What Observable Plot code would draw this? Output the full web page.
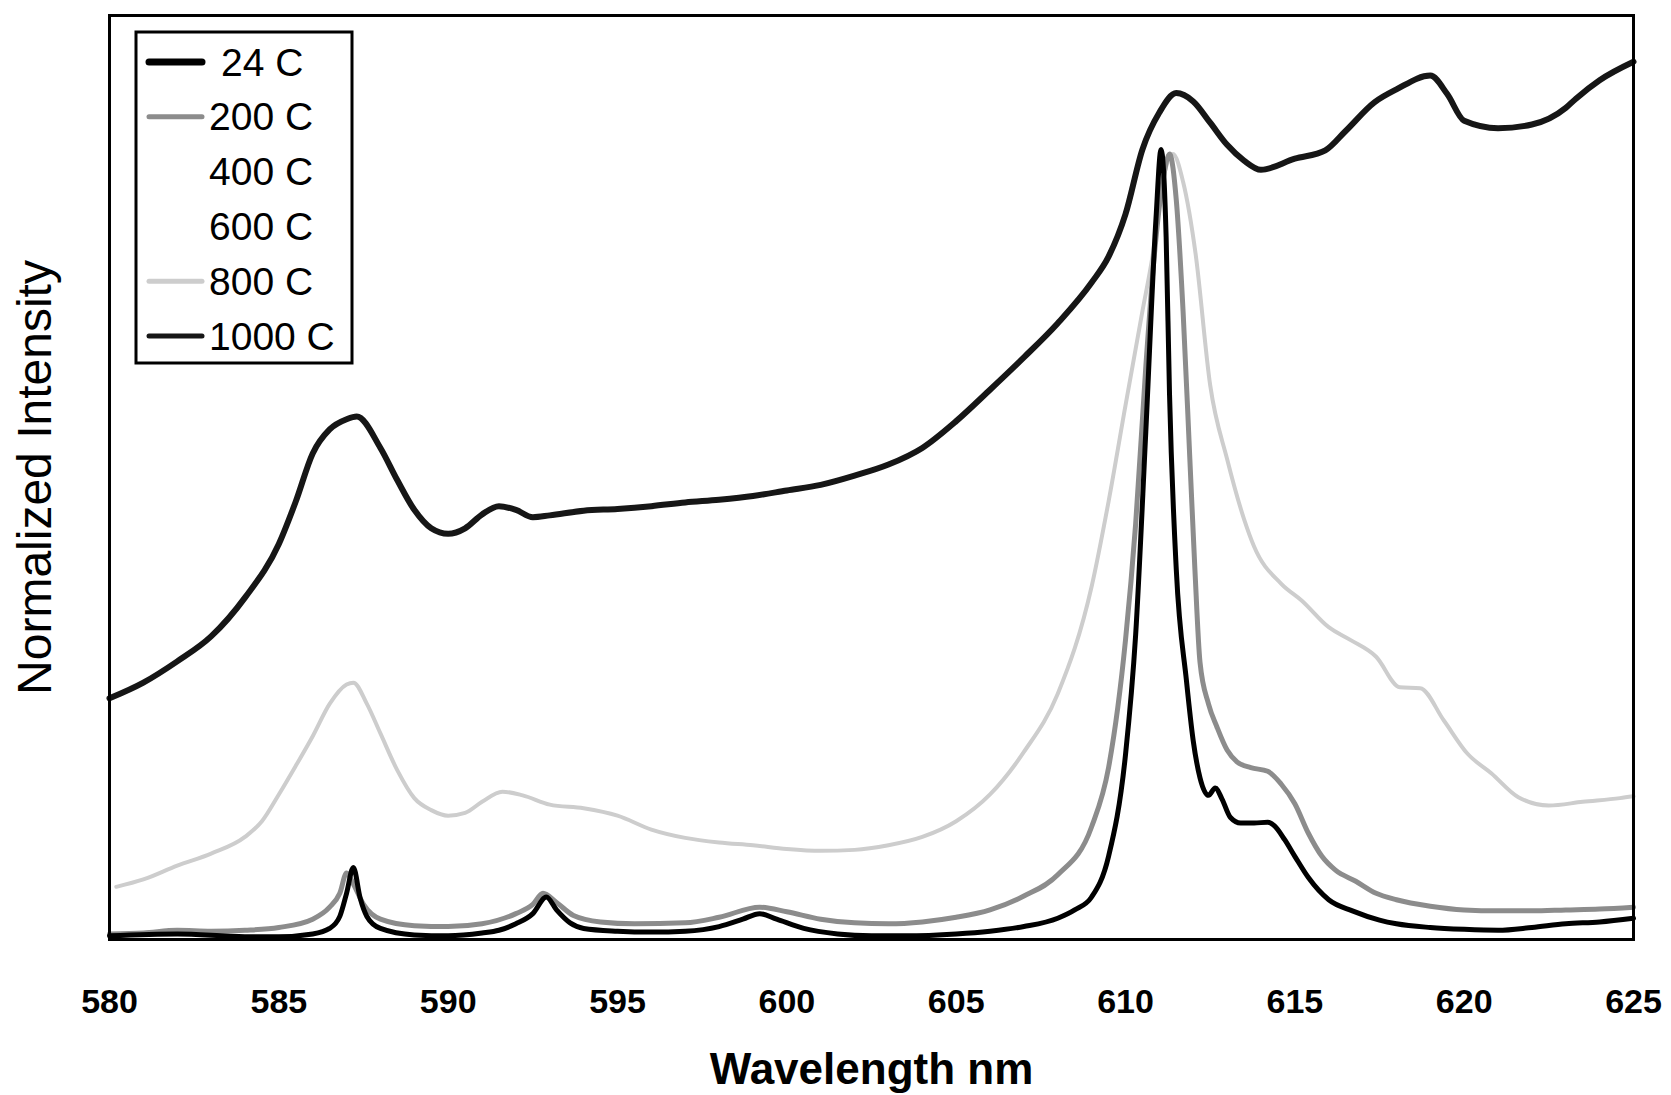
<!DOCTYPE html>
<html>
<head>
<meta charset="utf-8">
<script src="https://cdn.jsdelivr.net/npm/d3@7"></script>
<script src="https://cdn.jsdelivr.net/npm/@observablehq/plot@0.6"></script>
<style>
  body { margin: 0; background: #fff; }
  #chart { position: relative; width: 1671px; height: 1095px; }
  #chart svg { font-family: "Liberation Sans", Arial, sans-serif; }
</style>
</head>
<body>
<div id="chart"></div>
<script>
// ---- data ----
const xTicks = [580, 585, 590, 595, 600, 605, 610, 615, 620, 625];
const seriesNames = ["24 C", "200 C", "400 C", "600 C", "800 C", "1000 C"];
const seriesColors = ["#000000", "#8c8c8c", "#ffffff", "#ffffff", "#cdcdcd", "#161616"];

const wl24 = [580, 582, 584, 585, 586, 586.5, 586.8, 587.0, 587.2, 587.4, 587.6, 588, 589, 590, 591, 591.5, 592, 592.5, 592.9, 593.2, 593.6, 594, 595, 596, 597, 598, 598.7, 599.2, 599.7, 600.5, 601.5, 602.5, 603.5, 605, 606, 607, 608, 608.5, 609, 609.5, 610, 610.3, 610.6, 610.9, 611.05, 611.2, 611.3, 611.5, 611.8, 612.0, 612.2, 612.45, 612.65, 612.85, 613.1, 613.4, 613.8, 614.2, 614.4, 614.7, 615.0, 615.4, 616.0, 616.7, 617.5, 618, 619, 620, 621, 622, 623, 624, 625];
const in24 = [0.4, 0.6, 0.3, 0.3, 0.6, 1.2, 2.5, 5.0, 7.8, 4.5, 2.5, 1.2, 0.5, 0.4, 0.7, 1.0, 1.7, 2.8, 4.6, 3.2, 1.8, 1.2, 0.9, 0.8, 0.9, 1.4, 2.2, 2.8, 2.2, 1.2, 0.6, 0.4, 0.4, 0.6, 0.9, 1.4, 2.3, 3.2, 4.6, 9.0, 20, 33, 55, 78, 85.5, 76, 59, 40, 28, 21.5, 17.5, 15.6, 16.4, 15.2, 13.2, 12.6, 12.6, 12.7, 12.3, 10.8, 9.0, 6.7, 4.3, 3.1, 2.1, 1.7, 1.3, 1.1, 1.0, 1.3, 1.7, 1.9, 2.3];

const wl200 = [580, 581, 582, 583, 584, 585, 586, 586.5, 586.8, 587.0, 587.2, 587.5, 588, 589, 590, 591, 592, 592.5, 592.8, 593.2, 593.7, 594.5, 595.5, 597, 598, 599.2, 600, 601, 602, 603, 604, 605, 606, 607, 608, 609, 609.5, 610, 610.3, 610.6, 610.85, 611.1, 611.3, 611.5, 611.7, 611.9, 612.05, 612.2, 612.45, 612.7, 613.0, 613.3, 613.7, 614.2, 614.6, 615.0, 615.4, 615.8, 616.2, 616.8, 617.4, 618, 619, 620, 621, 622, 623, 624, 625];
const in200 = [0.6, 0.7, 1.0, 0.9, 1.0, 1.3, 2.2, 3.5, 5.0, 7.2, 6.0, 3.8, 2.2, 1.5, 1.4, 1.7, 2.8, 3.8, 5.0, 4.0, 2.6, 1.9, 1.7, 1.8, 2.4, 3.5, 3.0, 2.2, 1.8, 1.7, 1.9, 2.4, 3.2, 4.7, 7.0, 12.2, 18.6, 32.4, 45, 62, 74, 82, 85, 80, 68, 52, 40, 30, 25.5, 23, 20.5, 19.2, 18.6, 18.2, 16.8, 14.7, 11.5, 9.0, 7.5, 6.3, 5.0, 4.3, 3.6, 3.2, 3.1, 3.1, 3.2, 3.3, 3.5];

const wl800 = [580.2, 581, 582, 583, 584, 584.5, 585, 585.5, 586, 586.5, 587.0, 587.2, 587.6, 588, 588.5, 589, 589.5, 590, 590.5, 591, 591.6, 592.2, 593, 594, 595, 596, 597, 598, 599, 600, 601, 602, 603, 604, 605, 606, 607, 608, 609, 609.5, 610, 610.5, 610.8, 611.1, 611.4, 611.7, 612.07, 612.5, 613, 613.5, 613.8, 614.6, 615.2, 616, 616.65, 617.4, 618.1, 618.7, 619.4, 620.1, 620.8, 621.6, 622.5, 623.5, 624.6, 625];
const in800 = [5.7, 6.5, 8.0, 9.3, 11.1, 12.8, 15.7, 18.8, 22.0, 25.5, 27.6, 27.8, 25.5, 22.3, 18.3, 15.3, 14.0, 13.4, 13.7, 14.9, 16.0, 15.6, 14.6, 14.2, 13.4, 11.9, 11.0, 10.5, 10.2, 9.8, 9.6, 9.7, 10.2, 11.1, 12.8, 15.7, 20.3, 26.6, 38.2, 47.4, 57.8, 68, 74, 82, 85, 82, 74.2, 60, 52, 45.5, 42.5, 38.5, 36.7, 33.8, 32.4, 30.6, 27.3, 27.2, 23.7, 20.1, 18.0, 15.4, 14.5, 14.9, 15.3, 15.5];

const wl1000 = [580, 581, 582, 583, 584, 585, 585.5, 586, 586.5, 587, 587.3, 588, 588.5, 589, 589.5, 590, 590.5, 591, 591.5, 592, 592.5, 593, 594, 595, 596, 597, 598, 599, 600, 601, 602, 603, 604, 605, 606, 607, 608, 609, 609.5, 610, 610.5, 611, 611.5, 612, 612.5, 613, 613.5, 614, 615, 615.9, 616.5, 617.35, 618, 619, 619.5, 620, 621, 622, 623, 623.3, 624, 625];
const in1000 = [26.1, 27.8, 30.1, 32.8, 37.0, 42.8, 47.4, 52.6, 55.2, 56.3, 56.6, 53.2, 49.7, 46.5, 44.5, 43.9, 44.5, 46.0, 46.9, 46.5, 45.7, 45.9, 46.4, 46.6, 46.9, 47.3, 47.6, 48.0, 48.6, 49.2, 50.2, 51.4, 53.2, 56.1, 59.5, 63.0, 66.7, 71.1, 73.9, 78.5, 85.5, 89.5, 91.6, 90.7, 88.4, 86.0, 84.3, 83.3, 84.5, 85.4, 87.5, 90.6, 92.0, 93.5, 91.5, 88.6, 87.8, 88.2, 90.0, 91.0, 93.0, 95.0];

// ---- build rows ----
function rows(name, wl, vals) { return wl.map((x, i) => ({series: name, x, y: vals[i]})); }
const data24 = rows("24 C", wl24, in24);
const data200 = rows("200 C", wl200, in200);
const data800 = rows("800 C", wl800, in800);
const data1000 = rows("1000 C", wl1000, in1000);
const color = Object.fromEntries(seriesNames.map((n, i) => [n, seriesColors[i]]));

const plot = Plot.plot({
  width: 1671,
  height: 1095,
  marginLeft: 109,
  marginRight: 38,
  marginTop: 15,
  marginBottom: 156,
  x: {domain: [580, 625], axis: null},
  y: {domain: [0, 100], axis: null},
  marks: [
    Plot.line(data800, {x: "x", y: "y", stroke: color["800 C"], strokeWidth: 4, curve: "monotone-x"}),
    Plot.line(data200, {x: "x", y: "y", stroke: color["200 C"], strokeWidth: 5, curve: "monotone-x"}),
    Plot.line(data1000, {x: "x", y: "y", stroke: color["1000 C"], strokeWidth: 6, curve: "monotone-x"}),
    Plot.line(data24, {x: "x", y: "y", stroke: color["24 C"], strokeWidth: 5, curve: "monotone-x"}),
    Plot.frame({stroke: "#000", strokeWidth: 3}),
    Plot.text(xTicks, {x: d => d, text: d => String(d), frameAnchor: "bottom", lineAnchor: "middle", dy: 63, fontSize: 34, fontWeight: "bold", fill: "#000"}),
    Plot.text(["Wavelength nm"], {text: d => d, frameAnchor: "bottom", lineAnchor: "middle", textAnchor: "middle", dy: 130, fontSize: 44, fontWeight: "bold", fill: "#000"}),
    Plot.text(["Normalized Intensity"], {text: d => d, frameAnchor: "left", textAnchor: "middle", lineAnchor: "middle", dx: -74, rotate: -90, fontSize: 48, fill: "#000"})
  ]
});
document.getElementById("chart").appendChild(plot);

// ---- legend ----
const svg = d3.select(plot);
const lg = svg.append("g").attr("class", "legend").attr("text-anchor", "start");
lg.append("rect").attr("x", 136).attr("y", 32).attr("width", 216).attr("height", 331)
  .attr("fill", "#fff").attr("stroke", "#000").attr("stroke-width", 3);
seriesNames.forEach((name, i) => {
  const cy = 62 + i * 54.8;
  lg.append("line").attr("x1", 149).attr("x2", 202).attr("y1", cy).attr("y2", cy)
    .attr("stroke", seriesColors[i]).attr("stroke-width", i === 0 ? 7 : 5).attr("stroke-linecap", "round");
  lg.append("text").attr("x", name === "24 C" ? 221 : 209).attr("y", cy)
    .attr("text-anchor", "start")
    .attr("dominant-baseline", "central").attr("font-size", 39).attr("fill", "#000")
    .attr("font-family", "Liberation Sans, Arial, sans-serif").text(name);
});
</script>
</body>
</html>
